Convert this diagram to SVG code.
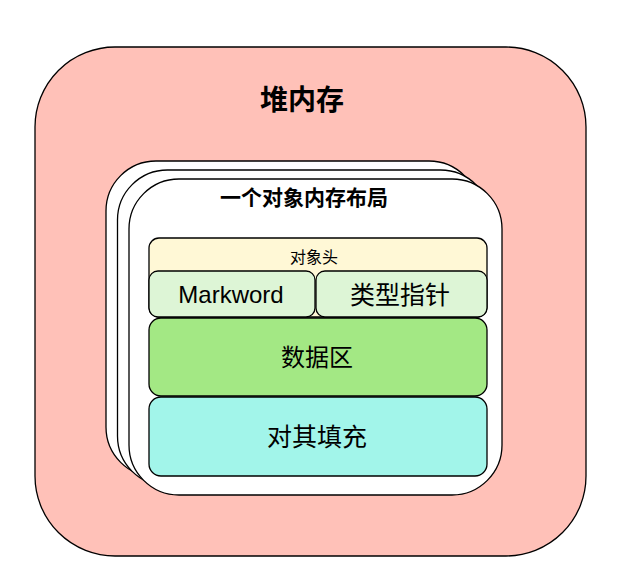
<svg xmlns="http://www.w3.org/2000/svg" width="630" height="584" viewBox="0 0 630 584">
<style>
.b{stroke:#000;stroke-width:1.3}
.t{font-family:"Liberation Sans","Noto Sans CJK SC",sans-serif;text-anchor:middle;fill:#000}
</style>
<rect width="630" height="584" fill="#fff"/>
<g id="heap">
<rect class="b" x="35" y="47" width="551" height="509" rx="80" fill="#ffc1b8"/>
<text class="t" x="302" y="110" font-size="28" font-weight="bold">堆内存</text>
</g>
<g id="stack">
<rect class="b" x="106" y="161" width="373" height="316" rx="50" fill="#fff"/>
<rect class="b" x="117.5" y="170" width="373" height="316" rx="50" fill="#fff"/>
<rect class="b" x="129" y="179" width="373" height="316" rx="50" fill="#fff"/>
<text class="t" x="304" y="205" font-size="21" font-weight="bold">一个对象内存布局</text>
</g>
<g id="header">
<rect class="b" x="149" y="238" width="338" height="79" rx="10" fill="#fff8d6"/>
<text class="t" x="314" y="263" font-size="16">对象头</text>
</g>
<g id="markword">
<rect class="b" x="149" y="271" width="166" height="46" rx="9" fill="#ddf5d6"/>
<text class="t" x="231" y="303" font-size="24">Markword</text>
</g>
<g id="klass">
<rect class="b" x="316" y="271" width="171" height="46" rx="9" fill="#ddf5d6"/>
<text class="t" x="400" y="304" font-size="25">类型指针</text>
</g>
<g id="data">
<rect class="b" x="149" y="318" width="338" height="78" rx="12" fill="#a3e884"/>
<text class="t" x="317" y="366" font-size="24">数据区</text>
</g>
<g id="padding">
<rect class="b" x="149" y="397" width="338" height="79" rx="12" fill="#a2f5ea"/>
<text class="t" x="317" y="446" font-size="25">对其填充</text>
</g>
<g id="connectors"/>
</svg>
